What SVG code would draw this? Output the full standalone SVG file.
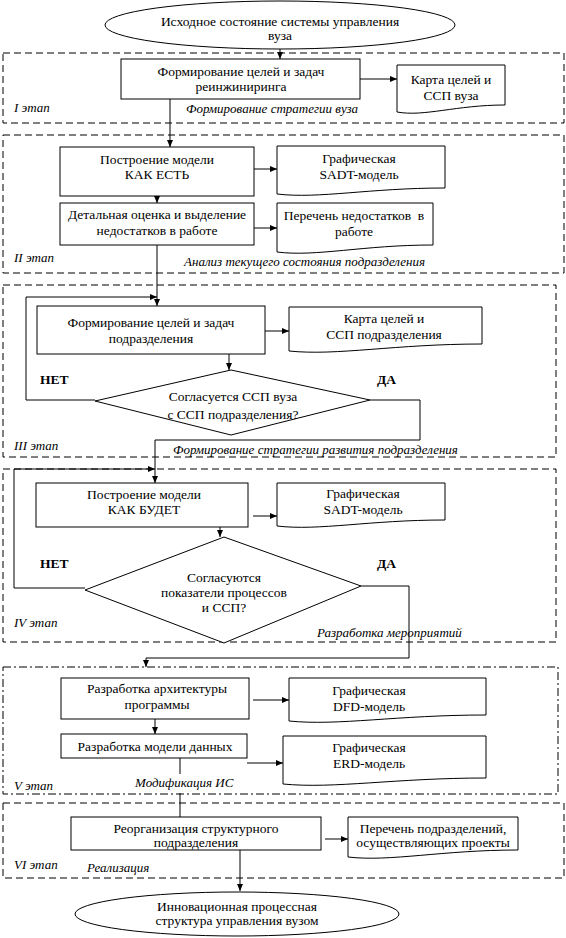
<svg xmlns="http://www.w3.org/2000/svg" width="566" height="938" viewBox="0 0 566 938">
<style>
.bg{fill:#fff}
.box{fill:#fff;stroke:#000;stroke-width:1}
.stage{fill:none;stroke:#000;stroke-width:1;stroke-dasharray:7,4}
.stage2{fill:none;stroke:#000;stroke-width:1;stroke-dasharray:8,3,2,3}
.ln{fill:none;stroke:#000;stroke-width:1}
.t{font-family:"Liberation Serif","Times New Roman",serif;font-size:13.5px;fill:#000;text-anchor:middle}
.i{font-family:"Liberation Serif","Times New Roman",serif;font-size:13px;font-style:italic;fill:#000}
.b{font-family:"Liberation Serif","Times New Roman",serif;font-size:13.5px;font-weight:bold;fill:#000}
</style>
<defs>
<marker id="ar" markerWidth="7" markerHeight="6" refX="7" refY="3" orient="auto" markerUnits="userSpaceOnUse">
<path d="M0,0 L7,3 L0,6 z" fill="#000"/>
</marker>
</defs>
<rect class="bg" x="0" y="0" width="566" height="938"/>

<g id="stages">
<rect class="stage" x="3" y="53" width="561" height="70"/>
<rect class="stage" x="3" y="135" width="561" height="138"/>
<rect class="stage" x="3" y="285" width="553" height="172"/>
<rect class="stage" x="3" y="469" width="553" height="173"/>
<rect class="stage2" x="3" y="667" width="555" height="127"/>
<rect class="stage" x="3" y="803" width="561" height="75"/>
</g>

<g id="stage-labels">
<text class="i" x="14" y="112">I этап</text>
<text class="i" x="186" y="113">Формирование стратегии вуза</text>
<text class="i" x="14" y="262">II этап</text>
<text class="i" x="184" y="266">Анализ текущего состояния подразделения</text>
<text class="i" x="14" y="450">III этап</text>
<text class="i" x="173" y="454">Формирование стратегии развития подразделения</text>
<text class="i" x="14" y="627">IV этап</text>
<text class="i" x="317" y="637">Разработка мероприятий</text>
<text class="i" x="14" y="790">V этап</text>
<text class="i" x="135" y="787">Модификация ИС</text>
<text class="i" x="14" y="869">VI этап</text>
<text class="i" x="87" y="872">Реализация</text>
</g>

<g id="connectors">
<line class="ln" x1="280" y1="49" x2="280" y2="59" marker-end="url(#ar)"/>
<line class="ln" x1="360" y1="79" x2="397" y2="79" marker-end="url(#ar)"/>
<line class="ln" x1="170" y1="99" x2="170" y2="147" marker-end="url(#ar)"/>
<line class="ln" x1="254" y1="169" x2="277" y2="169" marker-end="url(#ar)"/>
<line class="ln" x1="157" y1="196" x2="157" y2="203" marker-end="url(#ar)"/>
<line class="ln" x1="254" y1="228" x2="277" y2="228" marker-end="url(#ar)"/>
<line class="ln" x1="157" y1="245" x2="157" y2="306" marker-end="url(#ar)"/>
<polyline class="ln" points="95,400 26,400 26,297 157,297" marker-end="url(#ar)"/>
<line class="ln" x1="265" y1="331" x2="289" y2="331" marker-end="url(#ar)"/>
<line class="ln" x1="229" y1="354" x2="229" y2="370" marker-end="url(#ar)"/>
<polyline class="ln" points="370,400 420,400 420,440 155,440 155,483" marker-end="url(#ar)"/>
<polyline class="ln" points="85,588 14,588 14,469 155,469" marker-end="url(#ar)"/>
<line class="ln" x1="253" y1="516" x2="277" y2="516" marker-end="url(#ar)"/>
<line class="ln" x1="220" y1="527" x2="220" y2="537" marker-end="url(#ar)"/>
<polyline class="ln" points="361,586 409,586 409,658 146,658 146,667" marker-end="url(#ar)"/>
<line class="ln" x1="253" y1="700" x2="289" y2="700" marker-end="url(#ar)"/>
<line class="ln" x1="155" y1="719" x2="155" y2="734" marker-end="url(#ar)"/>
<line class="ln" x1="247" y1="763" x2="283" y2="763" marker-end="url(#ar)"/>
<line class="ln" x1="180" y1="758" x2="180" y2="774"/>
<line class="ln" x1="180" y1="793" x2="180" y2="817"/>
<line class="ln" x1="325" y1="839" x2="348" y2="839" marker-end="url(#ar)"/>
<line class="ln" x1="240" y1="850" x2="240" y2="891" marker-end="url(#ar)"/>
</g>

<g id="start">
<ellipse class="box" cx="280" cy="25" rx="175" ry="24"/>
<text class="t" x="280" y="26">Исходное состояние системы управления</text>
<text class="t" x="280" y="40">вуза</text>
</g>

<g id="goals">
<rect class="box" x="121" y="59" width="239" height="40"/>
<text class="t" x="241" y="76">Формирование целей и задач</text>
<text class="t" x="241" y="91">реинжиниринга</text>
</g>

<g id="map1">
<path class="box" d="M397,65 H505 V105 C456,105 424,117 397,112 Z"/>
<text class="t" x="451" y="84">Карта целей и</text>
<text class="t" x="451" y="100">ССП вуза</text>
</g>

<g id="asis">
<rect class="box" x="60" y="147" width="194" height="49"/>
<text class="t" x="157" y="164">Построение модели</text>
<text class="t" x="157" y="179">КАК ЕСТЬ</text>
</g>

<g id="sadt1">
<path class="box" d="M277,146 H445 V188 C369,188 319,199 277,194 Z"/>
<text class="t" x="359" y="163">Графическая</text>
<text class="t" x="359" y="179">SADT-модель</text>
</g>

<g id="assess">
<rect class="box" x="60" y="203" width="194" height="42"/>
<text class="t" x="157" y="219">Детальная оценка и выделение</text>
<text class="t" x="157" y="235">недостатков в работе</text>
</g>

<g id="defects">
<path class="box" d="M277,203 H433 V245 C363,245 316,257 277,252 Z"/>
<text class="t" x="354" y="220" xml:space="preserve">Перечень недостатков  в</text>
<text class="t" x="354" y="236">работе</text>
</g>

<g id="unitgoals">
<rect class="box" x="37" y="306" width="228" height="48"/>
<text class="t" x="151" y="327">Формирование целей и задач</text>
<text class="t" x="151" y="343">подразделения</text>
</g>

<g id="map2">
<path class="box" d="M289,307 H482 V344 C395,344 337,356 289,351 Z"/>
<text class="t" x="384" y="323">Карта целей и</text>
<text class="t" x="384" y="339">ССП подразделения</text>
</g>

<g id="decision1">
<polygon class="box" points="231,370 370,400 231,435 95,401"/>
<text class="t" x="233" y="401">Согласуется ССП вуза</text>
<text class="t" x="233" y="419">с ССП подразделения?</text>
<text class="b" x="40" y="384">НЕТ</text>
<text class="b" x="377" y="384">ДА</text>
</g>

<g id="tobe">
<rect class="box" x="36" y="483" width="212" height="44"/>
<text class="t" x="144" y="499">Построение модели</text>
<text class="t" x="144" y="514">КАК БУДЕТ</text>
</g>

<g id="sadt2">
<path class="box" d="M277,483 H445 V520 C369,520 319,531 277,526 Z"/>
<text class="t" x="363" y="498">Графическая</text>
<text class="t" x="363" y="514">SADT-модель</text>
</g>

<g id="decision2">
<polygon class="box" points="224,537 361,586 224,643 85,590"/>
<text class="t" x="224" y="582">Согласуются</text>
<text class="t" x="224" y="597">показатели процессов</text>
<text class="t" x="224" y="612">и ССП?</text>
<text class="b" x="40" y="568">НЕТ</text>
<text class="b" x="377" y="568">ДА</text>
</g>

<g id="arch">
<rect class="box" x="61" y="678" width="188" height="41"/>
<text class="t" x="157" y="693">Разработка архитектуры</text>
<text class="t" x="157" y="709">программы</text>
</g>

<g id="dfd">
<path class="box" d="M289,678 H486 V715 C397,715 338,726 289,721 Z"/>
<text class="t" x="369" y="695">Графическая</text>
<text class="t" x="369" y="711">DFD-модель</text>
</g>

<g id="datamodel">
<rect class="box" x="61" y="734" width="186" height="24"/>
<text class="t" x="155" y="751">Разработка модели данных</text>
</g>

<g id="erd">
<path class="box" d="M283,736 H486 V778 C395,778 334,789 283,784 Z"/>
<text class="t" x="369" y="752">Графическая</text>
<text class="t" x="369" y="768">ERD-модель</text>
</g>

<g id="reorg">
<rect class="box" x="71" y="817" width="250" height="33"/>
<text class="t" x="196" y="833">Реорганизация структурного</text>
<text class="t" x="196" y="847">подразделения</text>
</g>

<g id="units">
<path class="box" d="M348,817 H518 V850 C442,850 390,862 348,857 Z"/>
<text class="t" x="433" y="833">Перечень подразделений,</text>
<text class="t" x="433" y="847">осуществляющих проекты</text>
</g>

<g id="end">
<ellipse class="box" cx="237" cy="914" rx="162" ry="22"/>
<text class="t" x="237" y="911">Инновационная процессная</text>
<text class="t" x="237" y="925">структура управления вузом</text>
</g>
</svg>
